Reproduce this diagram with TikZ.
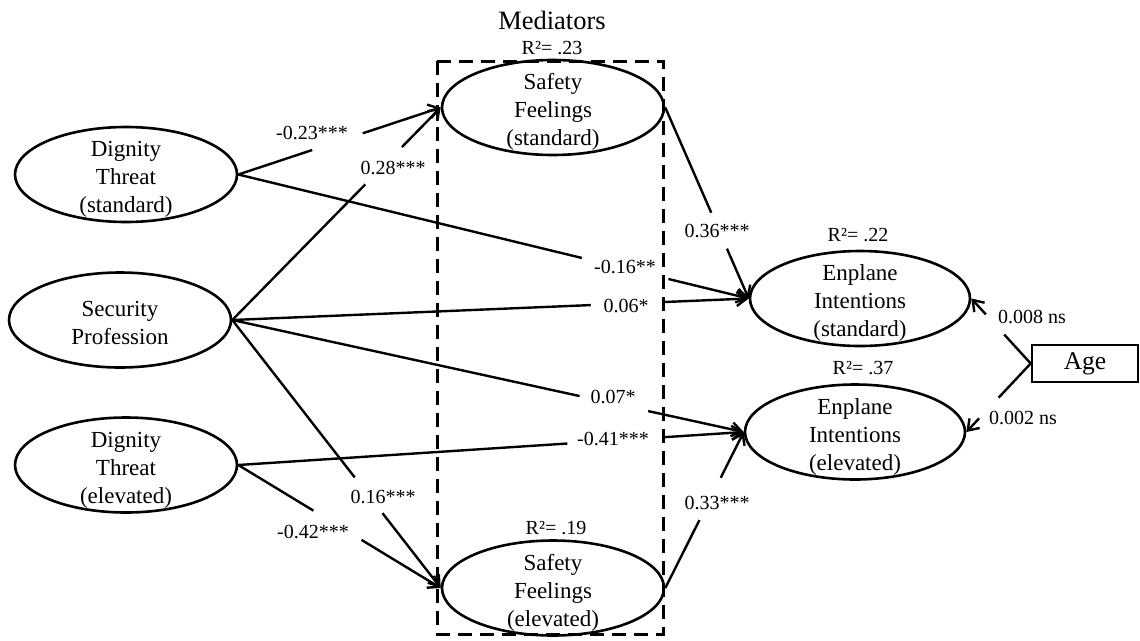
\documentclass[tikz,border=0pt]{standalone}
\usepackage{fontspec}
\setmainfont{Liberation Serif}
\usetikzlibrary{shapes.geometric,arrows.meta}
\newcommand{\ovtext}[1]{\smash{\raisebox{-11pt}{\begin{tabular}{@{}c@{}}#1\end{tabular}}}}
\begin{document}
\begin{tikzpicture}[x=1pt,y=-1pt,
  oval/.style={ellipse, draw, line width=2.6pt, minimum width=222pt, minimum height=95pt, inner sep=0pt, font=\fontsize{23}{28}\selectfont},
  lbl/.style={font=\fontsize{20}{24}\selectfont, inner sep=0pt},
  arr/.style={-{Straight Barb[length=10pt,width=14pt]}, line width=2.4pt},
  gapmask/.style={sloped, fill=white, inner sep=0pt, minimum height=9pt},
  medbox/.style={line width=3pt, dash pattern=on 14pt off 8pt}
]
\useasboundingbox (0,0) rectangle (1140,640);
\fill[white] (0,0) rectangle (1140,640);

% nodes
\node[oval] (DTs) at (126,174.5) {\ovtext{Dignity\\Threat\\(standard)}};
\node[oval] (SP)  at (120,320)   {\ovtext{Security\\Profession}};
\node[oval] (DTe) at (126,465)   {\ovtext{Dignity\\Threat\\(elevated)}};
\node[oval] (SFs) at (553,107.5) {\ovtext{Safety\\Feelings\\(standard)}};
\node[oval] (SFe) at (553,588)   {\ovtext{Safety\\Feelings\\(elevated)}};
\node[oval, minimum width=220pt] (EIs) at (860,298.5) {\ovtext{Enplane\\Intentions\\(standard)}};
\node[oval, minimum width=220pt] (EIe) at (855,432)   {\ovtext{Enplane\\Intentions\\(elevated)}};
\node[draw, line width=2.6pt, minimum width=106pt, minimum height=37pt, inner sep=0pt,
      font=\fontsize{25.5}{30}\selectfont] (Age) at (1085,363.5) {\raisebox{-2pt}{Age}};

% titles and R2
\node[lbl, font=\fontsize{26.5}{30}\selectfont] (med) at (552,20) {Mediators};
\node[lbl] (r1) at (552,48)  {R²= .23};
\node[lbl] (r2) at (556,528) {R²= .19};
\node[lbl] (r3) at (858,235) {R²= .22};
\node[lbl] (r4) at (863,368) {R²= .37};

% connectors
\draw[arr] (DTs.east) -- node[gapmask, pos=0.49,  minimum width=53pt]{} (SFs.west);
\draw[arr] (SP.east)  -- node[gapmask, pos=0.726, minimum width=52pt]{} (SFs.west);
\draw[arr] (DTs.east) -- node[gapmask, pos=0.758, minimum width=89pt]{} (EIs.west);
\draw[arr] (SP.east)  -- node[gapmask, pos=0.763, minimum width=71pt]{} (EIs.west);
\draw[arr] (SP.east)  -- node[gapmask, pos=0.746, minimum width=70pt]{} (EIe.west);
\draw[arr] (SP.east)  -- node[gapmask, pos=0.654, minimum width=45pt]{} (SFe.west);
\draw[arr] (DTe.east) -- node[gapmask, pos=0.746, minimum width=96pt]{} (EIe.west);
\draw[arr] (DTe.east) -- node[gapmask, pos=0.49,  minimum width=56pt]{} (SFe.west);
\draw[arr] (SFs.east) -- node[gapmask, pos=0.645, minimum width=39pt]{} (EIs.west);
\draw[arr] (SFe.east) -- node[gapmask, pos=0.571, minimum width=47pt]{} (EIe.west);
\draw[arr] (Age.west) -- node[gapmask, pos=0.6,   minimum width=27pt]{} (EIs.east);
\draw[arr] (Age.west) -- node[gapmask, pos=0.65,  minimum width=28pt]{} (EIe.east);

% path labels
\node[lbl] (l1)  at (312,133) {-0.23***};
\node[lbl] (l2)  at (393,168) {0.28***};
\node[lbl] (l3)  at (625,267) {-0.16**};
\node[lbl] (l4)  at (626,306) {0.06*};
\node[lbl] (l5)  at (613,397) {0.07*};
\node[lbl] (l6)  at (383,497) {0.16***};
\node[lbl] (l7)  at (613,439) {-0.41***};
\node[lbl] (l8)  at (313,532) {-0.42***};
\node[lbl] (l9)  at (717,231) {0.36***};
\node[lbl] (l10) at (717,503) {0.33***};
\node[lbl] (l11) at (1032,317) {0.008 ns};
\node[lbl] (l12) at (1023,418) {0.002 ns};

% mediators box
\draw[medbox] (437,61) rectangle (663,634);
\end{tikzpicture}
\end{document}
